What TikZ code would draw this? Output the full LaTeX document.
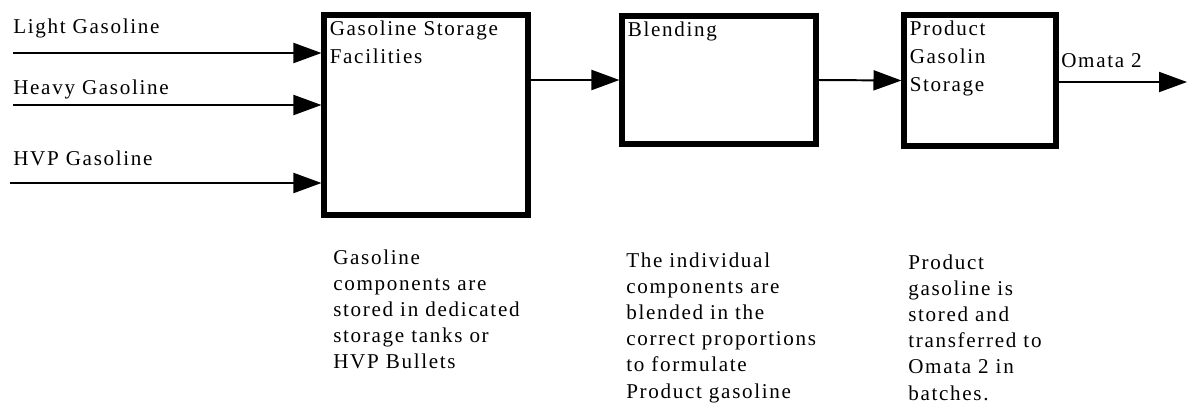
\documentclass[tikz,border=0pt]{standalone}
\usepackage{fontspec}
\setmainfont{Liberation Serif}[LetterSpace=8]
\usetikzlibrary{arrows.meta}
\tikzset{
    unitbox/.style = {rectangle, draw=black, line width=0.15cm, fill=white},
    title/.style = {anchor=north west, inner sep=0.2cm, align=left, font=\fontsize{15}{19.8}\selectfont},
    note/.style = {anchor=north west, inner sep=0pt, align=left, font=\fontsize{15}{18.5}\selectfont},
    feed/.style = {anchor=base west, inner sep=0pt, font=\fontsize{15}{16}\selectfont},
    flowline/.style = {-{Triangle[length=0.7cm,width=0.5cm]}, line width=1.4pt}
}

\begin{document}
\begin{tikzpicture}[x=0.025cm, y=-0.025cm]
  \useasboundingbox (0,0) rectangle (1187,403);

  % process units
  \node[unitbox, minimum width=5.075cm, minimum height=4.975cm,
        label={[title]north west:Gasoline Storage\\Facilities}] (store) at (426,115) {};
  \node[unitbox, minimum width=4.825cm, minimum height=3.175cm,
        label={[title]north west:Blending}] (mix) at (719,80) {};
  \node[unitbox, minimum width=3.775cm, minimum height=3.25cm,
        label={[title]north west:Product\\Gasolin\\Storage}] (ship) at (980,80.5) {};

  % feeds
  \coordinate (lightin) at (13,53);
  \coordinate (heavyin) at (13,105);
  \coordinate (hvpin) at (10,183);
  \node[feed] (light) at (13,33) {Light Gasoline};
  \node[feed] (heavy) at (13,94) {Heavy Gasoline};
  \node[feed] (hvp) at (13,165) {HVP Gasoline};
  \draw[flowline] (lightin) -- (lightin -| store.west);
  \draw[flowline] (heavyin) -- (heavyin -| store.west);
  \draw[flowline] (hvpin) -- (hvpin -| store.west);

  \draw[flowline] (store.east |- mix.west) -- (mix.west);
  \draw[flowline] (mix.east) -- (ship.west);

  \coordinate (out) at (1187,82);
  \node[feed] (omata) at (1061,67) {Omata 2};
  \draw[flowline] (ship.east |- out) -- (out);

  % notes
  \node[note] (storenote) at (333,250) {Gasoline\\components are\\stored in dedicated\\storage tanks or\\HVP Bullets};
  \node[note] (mixnote) at (626,253) {The individual\\components are\\blended in the\\correct proportions\\to formulate\\Product gasoline};
  \node[note] (shipnote) at (908,255) {Product\\gasoline is\\stored and\\transferred to\\Omata 2 in\\batches.};
\end{tikzpicture}
\end{document}
